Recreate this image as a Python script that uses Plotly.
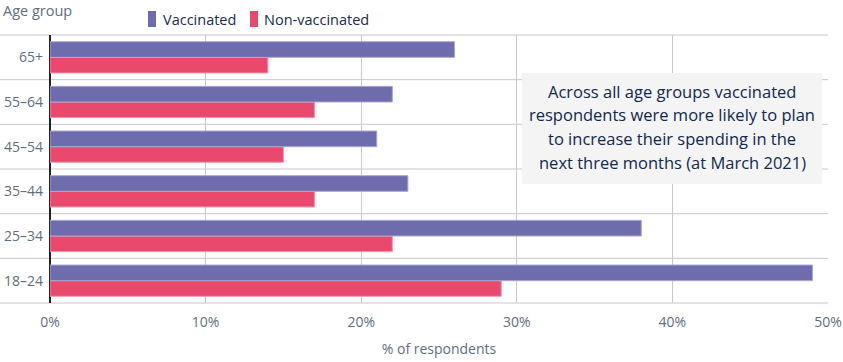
import plotly.graph_objects as go

age_groups = ["18–24", "25–34", "35–44", "45–54", "55–64", "65+"]
vaccinated = [49, 38, 23, 21, 22, 26]
non_vaccinated = [29, 22, 17, 15, 17, 14]
x_ticks = [0, 10, 20, 30, 40, 50]
x_tick_labels = ["0%", "10%", "20%", "30%", "40%", "50%"]
note_lines = ["Across all age groups vaccinated",
              "respondents were more likely to plan",
              "to increase their spending in the",
              "next three months (at March 2021)"]

PURPLE = "#6F6CAE"
PINK = "#E8496C"
TICK = "#5F6E7E"
GRID = "#C8C8C8"
FONT = "Open Sans"

W, H = 843, 362
ml, mr, mt, mb = 50, 15, 35, 59
pw = W - ml - mr
ph = H - mt - mb

fig = go.Figure()
fig.add_trace(go.Bar(y=age_groups, x=non_vaccinated, orientation="h", name="Non-vaccinated",
                     marker=dict(color=PINK, line=dict(color="#F29AAE", width=1)), showlegend=False))
fig.add_trace(go.Bar(y=age_groups, x=vaccinated, orientation="h", name="Vaccinated",
                     marker=dict(color=PURPLE, line=dict(color="#A9A7D0", width=1)), showlegend=False))


def px_to_paper_x(px):
    return (px - ml) / pw


def px_to_paper_y(py):
    return (H - mb - py) / ph


shapes = []
n = len(age_groups)
for k in range(n + 1):
    shapes.append(dict(type="line", xref="paper", yref="y domain", x0=-ml / pw, x1=1,
                       y0=k / n, y1=k / n, line=dict(color=GRID, width=1), layer="below"))
shapes.append(dict(type="rect", xref="paper", yref="paper", x0=px_to_paper_x(148), x1=px_to_paper_x(156),
                   y0=px_to_paper_y(27), y1=px_to_paper_y(11), line=dict(width=0), fillcolor=PURPLE))
shapes.append(dict(type="rect", xref="paper", yref="paper", x0=px_to_paper_x(250), x1=px_to_paper_x(258),
                   y0=px_to_paper_y(27), y1=px_to_paper_y(11), line=dict(width=0), fillcolor=PINK))
# note box background
shapes.append(dict(type="rect", xref="paper", yref="paper", x0=px_to_paper_x(522), x1=px_to_paper_x(822),
                   y0=px_to_paper_y(184), y1=px_to_paper_y(73), line=dict(width=0), fillcolor="#F4F4F4",
                   layer="above"))

annotations = [
    dict(text="Vaccinated", xref="paper", yref="paper", x=px_to_paper_x(161), y=px_to_paper_y(19),
         xanchor="left", yanchor="middle", showarrow=False, font=dict(size=14.5, color="#1B2A4A")),
    dict(text="Non-vaccinated", xref="paper", yref="paper", x=px_to_paper_x(262), y=px_to_paper_y(19),
         xanchor="left", yanchor="middle", showarrow=False, font=dict(size=14.5, color="#1B2A4A")),
    dict(text="Age group", xref="paper", yref="paper", x=px_to_paper_x(1), y=px_to_paper_y(11),
         xanchor="left", yanchor="middle", showarrow=False, font=dict(size=14.5, color=TICK)),
]
for i, line in enumerate(note_lines):
    annotations.append(dict(text=line, xref="paper", yref="paper", x=px_to_paper_x(672),
                            y=px_to_paper_y(91 + 23.7 * i), xanchor="center", yanchor="middle",
                            showarrow=False, font=dict(size=16.5, color="#12284C", family=FONT)))

fig.update_layout(
    width=W, height=H,
    margin=dict(l=ml, r=mr, t=mt, b=mb, autoexpand=False),
    barmode="group", bargap=0.3, bargroupgap=0,
    plot_bgcolor="white", paper_bgcolor="white",
    font=dict(family=FONT, color=TICK, size=14),
    xaxis=dict(range=[0, 50], tickvals=x_ticks, ticktext=x_tick_labels, showgrid=True,
               gridcolor=GRID, gridwidth=1, zeroline=True, zerolinecolor="#222222", zerolinewidth=1.5,
               showline=False, ticks="", ticklabelstandoff=9, automargin=False,
               title=dict(text="% of respondents", font=dict(size=14, color=TICK), standoff=14),
               tickfont=dict(size=14, color=TICK)),
    yaxis=dict(categoryorder="array", categoryarray=age_groups, showgrid=False, zeroline=False,
               showline=False, ticks="", ticklabelstandoff=6, range=[-0.5, 5.5], automargin=False,
               tickfont=dict(size=14, color=TICK)),
    showlegend=False,
    shapes=shapes,
    annotations=annotations,
)

fig.write_html("out.html", config={"displayModeBar": False},
               post_script="document.body.style.margin='0';document.body.style.overflow='hidden';")
